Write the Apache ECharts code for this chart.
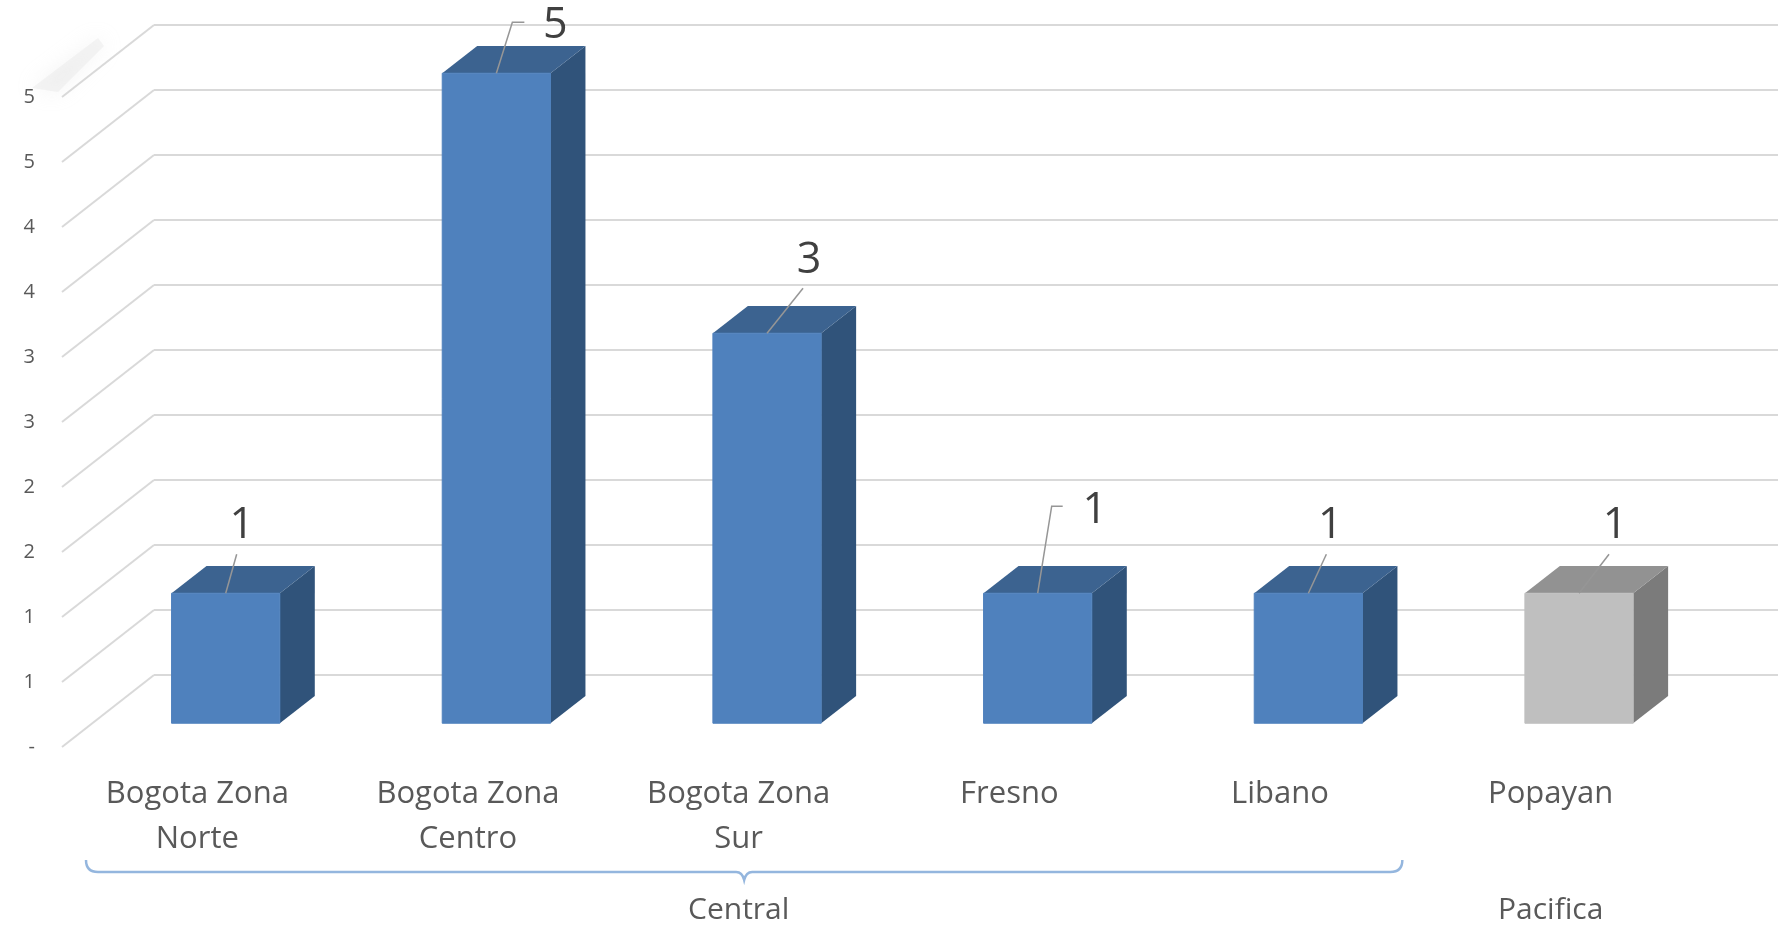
<!DOCTYPE html>
<html>
<head>
<meta charset="utf-8">
<script src="https://cdn.jsdelivr.net/npm/echarts@6/dist/echarts.min.js"></script>
<style>
html,body{margin:0;padding:0;background:#fff;}
#chart{width:1780px;height:931px;}
</style>
</head>
<body>
<div id="chart"></div>
<script>
// ---- data ----
const categories = ['Bogota Zona Norte', 'Bogota Zona Centro', 'Bogota Zona Sur', 'Fresno', 'Libano', 'Popayan'];
const regions = ['Central', 'Central', 'Central', 'Central', 'Central', 'Pacifica'];
const values = [1, 5, 3, 1, 1, 1];
const yMin = 0, yMax = 5, yStep = 0.5;

// ---- layout / style ----
const FONT = '"Open Sans", "DejaVu Sans", sans-serif';
const depthX = -92, depthY = 72;          // back wall -> front plane
const barFront = 0.67, barBack = 0.29;    // bar depth fractions
const barHalf = 0.2;                      // half bar width, fraction of band
const barShift = -2;                      // small horizontal nudge
const palette = {
  Central: { front: '#4F81BD', top: '#3C6390', side: '#30537A' },
  Pacifica: { front: '#BFBFBF', top: '#929292', side: '#7B7B7B' }
};
// manual data label placements (relative to bar's front-top centre)
const labelLayout = [
  { line: [[11, -39]], text: [16, -67] },
  { line: [[16, -51], [28, -51]], text: [59, -47] },
  { line: [[36, -45]], text: [42, -72] },
  { line: [[14, -87], [25, -87]], text: [57, -82] },
  { line: [[18, -39]], text: [22, -67] },
  { line: [[30, -39]], text: [36, -67] }
];

// groups from regions
const groups = [];
regions.forEach((r, i) => {
  const g = groups[groups.length - 1];
  if (g && g.name === r) g.end = i; else groups.push({ name: r, start: i, end: i });
});
const yTicks = [];
for (let t = yMin; t <= yMax + 1e-9; t += yStep) yTicks.push(+t.toFixed(4));

const chart = echarts.init(document.getElementById('chart'));

function barItem(params, api) {
  const i = params.dataIndex;
  const v = api.value(1);
  const base = api.coord([api.value(0), 0]);
  const top = api.coord([api.value(0), v]);
  const band = api.size([1, 0])[0];
  const hw = band * barHalf;
  const fx = barFront * depthX + barShift, fy = barFront * depthY;
  const bx = barBack * depthX + barShift, by = barBack * depthY;
  const c = palette[regions[i]];
  const L = base[0] - hw, R = base[0] + hw;
  const y0 = base[1], y1 = top[1];
  const front = [[L + fx, y1 + fy], [R + fx, y1 + fy], [R + fx, y0 + fy], [L + fx, y0 + fy]];
  const topFace = [[L + fx, y1 + fy], [R + fx, y1 + fy], [R + bx, y1 + by], [L + bx, y1 + by]];
  const side = [[R + fx, y1 + fy], [R + bx, y1 + by], [R + bx, y0 + by], [R + fx, y0 + fy]];
  const ax = base[0] + fx, ay = y1 + fy;
  const lay = labelLayout[i];
  const pts = [[ax, ay]].concat(lay.line.map(p => [ax + p[0], ay + p[1]]));
  return {
    type: 'group',
    children: [
      { type: 'polygon', shape: { points: side }, style: { fill: c.side } },
      { type: 'polygon', shape: { points: topFace }, style: { fill: c.top } },
      { type: 'polygon', shape: { points: front }, style: { fill: c.front, stroke: c.front, lineWidth: 1 } },
      { type: 'polyline', shape: { points: pts }, style: { stroke: '#969696', lineWidth: 1.5, fill: null }, z2: 5 },
      { type: 'text', x: ax + lay.text[0], y: ay + lay.text[1], z2: 6,
        style: { text: String(values[i]), font: '43px ' + FONT, fill: '#404040', align: 'center', verticalAlign: 'middle' } }
    ]
  };
}

function depthLine(params, api) {
  const p = api.coord([0, api.value(1)]);
  const band = api.size([1, 0])[0];
  const x0 = p[0] - band / 2;
  return { type: 'line', shape: { x1: x0, y1: p[1], x2: x0 + depthX, y2: p[1] + depthY },
    style: { stroke: '#D9D9D9', lineWidth: 2 } };
}

function groupItem(params, api) {
  const g = groups[params.dataIndex];
  const a = api.coord([g.start, 0]);
  const b = api.coord([g.end, 0]);
  const band = api.size([1, 0])[0];
  const mid = (a[0] + b[0]) / 2;
  const children = [
    { type: 'text', x: mid, y: a[1] + 163,
      style: { text: g.name, font: '30px ' + FONT, fill: '#595959', align: 'center', verticalAlign: 'middle' } }
  ];
  if (g.end > g.start) {
    const x1 = a[0] - band / 2 + 24, x2 = b[0] + band / 2 - 13;
    const yl = a[1] + 125, c = (x1 + x2) / 2;
    children.push({
      type: 'path',
      shape: {
        pathData: `M${x1} ${yl - 12} Q${x1} ${yl} ${x1 + 12} ${yl} L${c - 8} ${yl} Q${c - 2} ${yl} ${c} ${yl + 8} Q${c + 2} ${yl} ${c + 8} ${yl} L${x2 - 12} ${yl} Q${x2} ${yl} ${x2} ${yl - 12}`
      },
      style: { stroke: '#94B6DE', lineWidth: 2.5, fill: null }
    });
  }
  return { type: 'group', children };
}

const option = {
  backgroundColor: '#fff',
  animation: false,
  graphic: [
    { type: 'polygon', z: -1, shape: { points: [[32, 88], [98, 38], [104, 46], [58, 92]] },
      style: { fill: 'rgba(225,225,225,0.35)', shadowBlur: 20, shadowColor: 'rgba(215,215,215,0.8)' } }
  ],
  grid: [
    { left: 154, right: 2, top: 25, bottom: 256 },
    { left: 62, right: 94, top: 97, bottom: 184 }
  ],
  xAxis: [
    { type: 'category', gridIndex: 0, data: categories, show: false },
    { type: 'category', gridIndex: 1, data: categories,
      axisLine: { show: false }, axisTick: { show: false },
      axisLabel: { interval: 0, margin: 25, color: '#595959', fontFamily: FONT, fontSize: 31, lineHeight: 45,
        formatter: v => { const w = v.split(' '); return w.length > 2 ? w.slice(0, -1).join(' ') + '\n' + w[w.length - 1] : v; } } }
  ],
  yAxis: [
    { type: 'value', gridIndex: 0, min: yMin, max: yMax, interval: yStep,
      axisLine: { show: false }, axisTick: { show: false }, axisLabel: { show: false },
      splitLine: { show: true, lineStyle: { color: '#D9D9D9', width: 2 } } },
    { type: 'value', gridIndex: 1, min: yMin, max: yMax, interval: yStep,
      axisLine: { show: false }, axisTick: { show: false }, splitLine: { show: false },
      axisLabel: { margin: 27, color: '#595959', fontFamily: FONT, fontSize: 20,
        formatter: v => v === 0 ? '-' : String(Math.round(v)) } }
  ],
  series: [
    { type: 'custom', xAxisIndex: 0, yAxisIndex: 0, renderItem: depthLine, z: 1,
      data: yTicks.map(t => [0, t]), silent: true },
    { type: 'custom', xAxisIndex: 0, yAxisIndex: 0, renderItem: barItem, z: 3,
      data: values.map((v, i) => [i, v]), silent: true },
    { type: 'custom', xAxisIndex: 1, yAxisIndex: 1, renderItem: groupItem, z: 3,
      data: groups.map(g => [g.start, 0]), silent: true }
  ]
};
chart.setOption(option);
</script>
</body>
</html>
